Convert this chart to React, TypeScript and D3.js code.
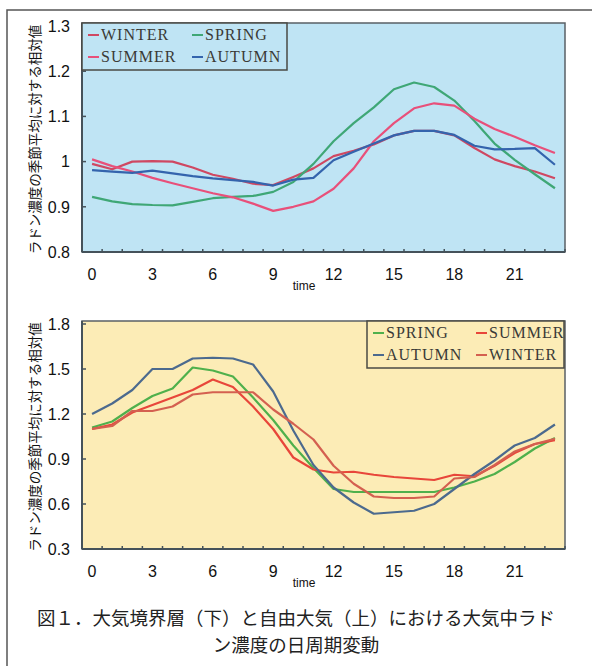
import React from 'react';
import * as d3 from 'd3';

// hours of day (categories on the x axis)
const hours = [0, 1, 2, 3, 4, 5, 6, 7, 8, 9, 10, 11, 12, 13, 14, 15, 16, 17, 18, 19, 20, 21, 22, 23];
const hourLabels = [0, 3, 6, 9, 12, 15, 18, 21];

// free atmosphere (upper panel)
const topWinter = [0.995, 0.983, 1.0, 1.001, 1.0, 0.987, 0.971, 0.962, 0.951, 0.948, 0.966, 0.985, 1.012, 1.024, 1.038, 1.058, 1.068, 1.068, 1.058, 1.03, 1.005, 0.99, 0.978, 0.963];
const topSpring = [0.922, 0.912, 0.906, 0.904, 0.903, 0.911, 0.919, 0.922, 0.924, 0.933, 0.955, 0.995, 1.045, 1.085, 1.12, 1.16, 1.175, 1.165, 1.135, 1.09, 1.04, 1.004, 0.972, 0.941];
const topSummer = [1.005, 0.99, 0.978, 0.964, 0.952, 0.941, 0.93, 0.921, 0.907, 0.891, 0.9, 0.912, 0.94, 0.985, 1.045, 1.085, 1.118, 1.129, 1.124, 1.095, 1.072, 1.055, 1.036, 1.019];
const topAutumn = [0.981, 0.978, 0.975, 0.98, 0.974, 0.968, 0.963, 0.959, 0.955, 0.947, 0.96, 0.964, 1.003, 1.022, 1.04, 1.058, 1.068, 1.068, 1.059, 1.035, 1.027, 1.028, 1.03, 0.993];
const topTicks = [0.8, 0.9, 1, 1.1, 1.2, 1.3];

// boundary layer (lower panel)
const botSpring = [1.11, 1.15, 1.24, 1.32, 1.37, 1.51, 1.49, 1.45, 1.31, 1.16, 0.99, 0.84, 0.7, 0.68, 0.68, 0.68, 0.68, 0.68, 0.71, 0.75, 0.8, 0.88, 0.97, 1.04];
const botSummer = [1.1, 1.13, 1.21, 1.26, 1.31, 1.36, 1.43, 1.38, 1.25, 1.1, 0.91, 0.83, 0.81, 0.815, 0.795, 0.78, 0.77, 0.76, 0.795, 0.785, 0.855, 0.94, 1.0, 1.025];
const botAutumn = [1.2, 1.27, 1.36, 1.5, 1.5, 1.57, 1.575, 1.57, 1.53, 1.35, 1.09, 0.86, 0.71, 0.61, 0.535, 0.545, 0.555, 0.6, 0.7, 0.8, 0.89, 0.99, 1.04, 1.13];
const botWinter = [1.1, 1.12, 1.22, 1.22, 1.25, 1.33, 1.345, 1.345, 1.345, 1.23, 1.135, 1.03, 0.855, 0.735, 0.65, 0.64, 0.64, 0.65, 0.77, 0.78, 0.86, 0.95, 1.0, 1.035];
const botTicks = [0.3, 0.6, 0.9, 1.2, 1.5, 1.8];

const yTitle = 'ラドン濃度の季節平均に対する相対値';

type Series = { name: string; values: number[]; color: string };

const topSeries: Series[] = [
  { name: 'WINTER', values: topWinter, color: '#cf4862' },
  { name: 'SPRING', values: topSpring, color: '#3fa776' },
  { name: 'SUMMER', values: topSummer, color: '#e8507a' },
  { name: 'AUTUMN', values: topAutumn, color: '#3464ad' },
];

const botSeries: Series[] = [
  { name: 'SPRING', values: botSpring, color: '#4fb04c' },
  { name: 'SUMMER', values: botSummer, color: '#e8463a' },
  { name: 'AUTUMN', values: botAutumn, color: '#4c6a8e' },
  { name: 'WINTER', values: botWinter, color: '#d46050' },
];

const sans = '"Liberation Sans", Arial, sans-serif';
const serif = '"Liberation Serif", "Times New Roman", serif';
const cjk = '"Noto Sans CJK JP", "Noto Sans", sans-serif';

type PanelProps = {
  top: number;
  bottom: number;
  domain: [number, number];
  ticks: number[];
  bg: string;
  series: Series[];
  legend: { x: number; y: number; w: number; h: number; col2: number };
};

const Panel = ({ top, bottom, domain, ticks, bg, series, legend }: PanelProps) => {
  const left = 82;
  const right = 565;
  const x = d3.scaleBand<number>().domain(hours).range([left, right]);
  const cx = (h: number) => (x(h) ?? 0) + x.bandwidth() / 2;
  const y = d3.scaleLinear().domain(domain).range([bottom, top + 3]);
  const line = d3.line<number>().x((_, i) => cx(hours[i])).y(d => y(d));
  const axis = '#45525a';

  return (
    <g>
      <rect x={left} y={top} width={right - left} height={bottom - top} fill={bg} stroke="#5a6066" strokeWidth={1.5} />
      {series.map(s => (
        <path key={s.name} d={line(s.values) ?? ''} fill="none" stroke={s.color} strokeWidth={2.2} strokeLinejoin="round" />
      ))}
      <line x1={left} x2={left} y1={top} y2={bottom} stroke={axis} strokeWidth={2} />
      <line x1={left} x2={right} y1={bottom} y2={bottom} stroke={axis} strokeWidth={2} />
      {hours.map(h => (
        <line key={h} x1={(x(h) ?? 0) + x.bandwidth()} x2={(x(h) ?? 0) + x.bandwidth()} y1={bottom} y2={bottom - 3} stroke={axis} strokeWidth={1.5} />
      ))}
      {ticks.map(t => (
        <g key={t}>
          <line x1={left} x2={left + 4} y1={y(t)} y2={y(t)} stroke={axis} strokeWidth={1.5} />
          <text x={70} y={y(t)} dy="0.36em" textAnchor="end" fontFamily={sans} fontSize={16} fill="#111">
            {String(t)}
          </text>
        </g>
      ))}
      {hourLabels.map(h => (
        <text key={h} x={cx(h)} y={bottom + 28} textAnchor="middle" fontFamily={sans} fontSize={16} fill="#111">
          {h}
        </text>
      ))}
      <text x={304} y={bottom + 38} textAnchor="middle" fontFamily={sans} fontSize={12} fill="#111">
        time
      </text>
      <text
        transform={`translate(34,${(top + bottom) / 2 + 2}) rotate(-90)`}
        textAnchor="middle"
        dominantBaseline="central"
        fontFamily={cjk}
        fontSize={13.5}
        fill="#111"
      >
        {yTitle}
      </text>
      <rect x={legend.x} y={legend.y} width={legend.w} height={legend.h} fill={bg} stroke="#4a4a44" strokeWidth={1.5} />
      {series.map((s, i) => {
        const col = i % 2;
        const row = Math.floor(i / 2);
        const lx = legend.x + (col === 0 ? 6 : legend.col2);
        const ly = legend.y + 12 + row * 22;
        return (
          <g key={s.name}>
            <line x1={lx} x2={lx + 11} y1={ly} y2={ly} stroke={s.color} strokeWidth={2} />
            <text x={lx + 13} y={ly + 5} fontFamily={serif} fontSize={16} letterSpacing={1} fill="#3a3a36">
              {s.name}
            </text>
          </g>
        );
      })}
    </g>
  );
};

const App = () => (
  <svg width={592} height={666} style={{ position: 'absolute', left: 0, top: 0, background: '#fff' }}>
    <path d="M7,666 L7,10 L592,10" fill="none" stroke="#555" strokeWidth={1.5} />
    <Panel
      top={23}
      bottom={252}
      domain={[0.8, 1.3]}
      ticks={topTicks}
      bg="#bfe4f4"
      series={topSeries}
      legend={{ x: 82, y: 23, w: 205, h: 47, col2: 110 }}
    />
    <Panel
      top={321}
      bottom={549}
      domain={[0.3, 1.8]}
      ticks={botTicks}
      bg="#fcecb6"
      series={botSeries}
      legend={{ x: 367, y: 321, w: 197, h: 47, col2: 109 }}
    />
    <text x={296} y={619} dy="0.35em" textAnchor="middle" fontFamily={cjk} fontSize={18.5} fill="#222">
      図１．大気境界層（下）と自由大気（上）における大気中ラド
    </text>
    <text x={296} y={646} dy="0.35em" textAnchor="middle" fontFamily={cjk} fontSize={18.5} fill="#222">
      ン濃度の日周期変動
    </text>
  </svg>
);

export default App;
